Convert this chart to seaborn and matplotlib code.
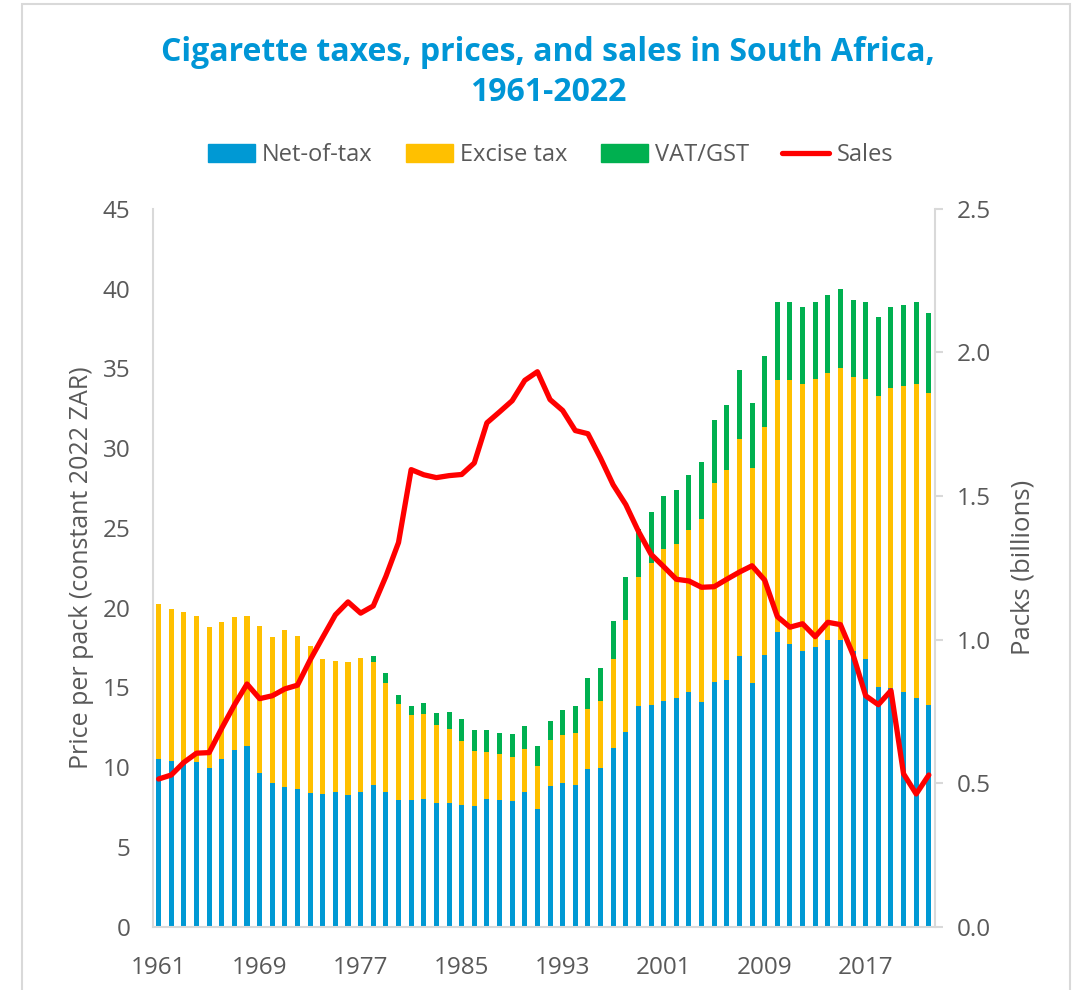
import matplotlib
matplotlib.use("Agg")
import matplotlib.pyplot as plt
from matplotlib.patches import Patch, Rectangle
from matplotlib.lines import Line2D
import numpy as np
import pandas as pd
import seaborn as sns

years = list(range(1961, 2023))

# price per pack, constant 2022 ZAR
net_of_tax = [10.5, 10.4, 10.4, 10.35, 9.95, 10.5, 11.1, 11.35, 9.65, 9.0,
              8.75, 8.65, 8.35, 8.3, 8.45, 8.25, 8.45, 8.9, 8.45, 7.95,
              7.95, 8.0, 7.75, 7.75, 7.6, 7.55, 8.0, 7.95, 7.9, 8.45,
              7.35, 8.8, 9.0, 8.85, 9.9, 9.95, 11.2, 12.2, 13.85, 13.9,
              14.15, 14.35, 14.7, 14.1, 15.35, 15.45, 16.95, 15.25, 17.05, 18.5,
              17.7, 17.25, 17.55, 17.95, 17.95, 17.3, 16.75, 15.05, 14.95, 14.7,
              14.35, 13.9]
excise_tax = [9.7, 9.5, 9.3, 9.15, 8.85, 8.6, 8.3, 8.15, 9.2, 9.15,
              9.85, 9.6, 9.25, 8.45, 8.2, 8.35, 8.4, 7.7, 6.8, 6.0,
              5.3, 5.3, 4.9, 4.65, 4.05, 3.45, 2.95, 2.9, 2.75, 2.7,
              2.7, 2.9, 3.0, 3.3, 3.75, 4.2, 5.6, 7.0, 8.1, 8.9,
              9.55, 9.65, 10.15, 11.45, 12.45, 13.2, 13.65, 13.5, 14.25, 15.8,
              16.6, 16.8, 16.8, 16.75, 17.1, 17.15, 17.6, 18.25, 18.85, 19.2,
              19.65, 19.55]
vat_gst = [0, 0, 0, 0, 0, 0, 0, 0, 0, 0,
           0, 0, 0, 0, 0, 0, 0, 0.35, 0.65, 0.6,
           0.55, 0.7, 0.75, 1.05, 1.35, 1.35, 1.35, 1.3, 1.4, 1.45,
           1.25, 1.2, 1.55, 1.7, 1.95, 2.05, 2.35, 2.7, 3.0, 3.2,
           3.3, 3.4, 3.45, 3.6, 3.95, 4.05, 4.3, 4.1, 4.45, 4.85,
           4.85, 4.8, 4.8, 4.9, 4.95, 4.85, 4.8, 4.95, 5.05, 5.05,
           5.15, 5.05]
# packs sold, billions
sales = [0.514, 0.528, 0.572, 0.604, 0.606, 0.691, 0.772, 0.845, 0.794, 0.804,
         0.828, 0.841, 0.929, 1.008, 1.086, 1.131, 1.092, 1.117, 1.22, 1.338,
         1.592, 1.574, 1.564, 1.571, 1.575, 1.615, 1.755, 1.793, 1.832, 1.903,
         1.933, 1.836, 1.798, 1.728, 1.717, 1.632, 1.539, 1.47, 1.377, 1.297,
         1.254, 1.21, 1.204, 1.182, 1.184, 1.21, 1.235, 1.257, 1.207, 1.08,
         1.043, 1.055, 1.01, 1.06, 1.052, 0.947, 0.804, 0.773, 0.822, 0.532,
         0.462, 0.528]

df = pd.DataFrame({"Year": [str(y) for y in years],
                   "Net": net_of_tax, "Excise": excise_tax, "VAT": vat_gst,
                   "Sales": sales})
# cumulative heights so the bars stack when drawn back to front
df["Total"] = df["Net"] + df["Excise"] + df["VAT"]
df["NetExcise"] = df["Net"] + df["Excise"]

blue, orange, green, red = "#0099D4", "#FFC000", "#00B050", "#FF0000"
grey_txt = "#595959"
grey_line = "#D9D9D9"

sns.set_style("white")
plt.rcParams["font.family"] = ["Open Sans", "DejaVu Sans"]

fig = plt.figure(figsize=(10.73, 9.9), dpi=100)
ax = fig.add_axes([0.1423, 0.0641, 0.7291, 0.7248])

for col, c in [("Total", green), ("NetExcise", orange), ("Net", blue)]:
    sns.barplot(data=df, x="Year", y=col, color=c, width=0.4,
                saturation=1, ax=ax, edgecolor="none")

ax.set_xlim(-0.47, 61.49)
ax.set_ylim(0, 45)
ax.set_yticks(np.arange(0, 46, 5))
ax.set_xticks(range(0, 62, 8))
ax.set_xticklabels([years[i] for i in range(0, 62, 8)])
ax.tick_params(axis="y", labelsize=17.5, colors=grey_txt, length=0, pad=16)
ax.tick_params(axis="x", labelsize=17.5, colors=grey_txt, length=0, pad=21)
ax.set_xlabel("")
ax.set_ylabel("Price per pack (constant 2022 ZAR)", fontsize=18, color=grey_txt, labelpad=6)
for s in ["top", "right"]:
    ax.spines[s].set_visible(False)
for s in ["left", "bottom"]:
    ax.spines[s].set_color(grey_line)
    ax.spines[s].set_linewidth(1.5)

ax2 = ax.twinx()
sns.lineplot(x=np.arange(len(years)), y=df["Sales"], color=red, linewidth=3.8, ax=ax2)
ax2.set_ylim(0, 2.5)
ax2.set_xlim(-0.47, 61.49)
ax2.set_yticks(np.arange(0, 2.51, 0.5))
ax2.set_yticklabels([f"{v:.1f}" for v in np.arange(0, 2.51, 0.5)])
ax2.tick_params(axis="y", labelsize=17.5, colors=grey_txt, length=6, width=1.5, pad=10)
ax2.tick_params(axis="y", which="both", color=grey_line)
ax2.set_ylabel("Packs (billions)", fontsize=18.5, color=grey_txt, labelpad=14)
for s in ["top", "left", "bottom"]:
    ax2.spines[s].set_visible(False)
ax2.spines["right"].set_color(grey_line)
ax2.spines["right"].set_linewidth(1.5)

fig.text(0.511, 0.927, "Cigarette taxes, prices, and sales in South Africa,\n1961-2022",
         ha="center", va="center", fontsize=23, fontweight="bold",
         color="#0096D6", linespacing=1.3)

handles = [Patch(color=blue), Patch(color=orange), Patch(color=green),
           Line2D([0], [0], color=red, linewidth=3.8)]
fig.legend(handles, ["Net-of-tax", "Excise tax", "VAT/GST", "Sales"],
           loc="center", bbox_to_anchor=(0.513, 0.843), ncol=4, frameon=False,
           fontsize=17, labelcolor=grey_txt, handlelength=2.0, handleheight=0.8,
           handletextpad=0.3, columnspacing=1.4)

fig.patches.append(Rectangle((22 / 1073, -0.01), (1070 - 22) / 1073, 1 - 4 / 990 + 0.01,
                             transform=fig.transFigure, fill=False,
                             edgecolor=grey_line, linewidth=1.5))

plt.savefig("out.png", dpi=100)
